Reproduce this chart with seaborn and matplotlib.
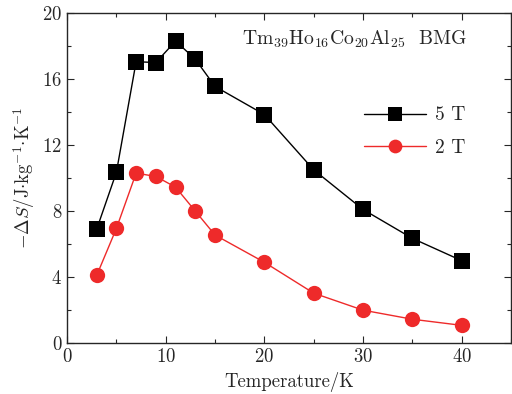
import matplotlib
matplotlib.use("Agg")
import matplotlib.pyplot as plt
import seaborn as sns
import pandas as pd
from matplotlib.ticker import MultipleLocator

sns.set_style("ticks")
plt.rcParams["font.family"] = ["cmr10", "DejaVu Serif"]
plt.rcParams["mathtext.fontset"] = "cm"
plt.rcParams["axes.formatter.use_mathtext"] = True

temperature = [3, 5, 7, 9, 11, 13, 15, 20, 25, 30, 35, 40]
ds_5T = [6.9, 10.35, 17.05, 17.0, 18.3, 17.2, 15.55, 13.85, 10.5, 8.1, 6.35, 5.0]
ds_2T = [4.1, 6.95, 10.3, 10.1, 9.45, 8.0, 6.55, 4.9, 3.03, 2.0, 1.45, 1.08]
series_labels = ["5 T", "2 T"]

df = pd.concat([
    pd.DataFrame({"T": temperature, "dS": ds_5T, "field": series_labels[0]}),
    pd.DataFrame({"T": temperature, "dS": ds_2T, "field": series_labels[1]}),
])

fig = plt.figure(figsize=(5.12, 3.94), dpi=100)
ax = fig.add_axes([0.131, 0.129, 0.867, 0.838])

palette = {"5 T": "black", "2 T": "#ee2a2a"}
sns.lineplot(data=df, x="T", y="dS", hue="field", style="field",
             markers={"5 T": "s", "2 T": "o"}, dashes=False,
             palette=palette, linewidth=1.0, markersize=11,
             markeredgewidth=0, ax=ax)

ax.set_xlim(0, 45)
ax.set_ylim(0, 20)
ax.xaxis.set_major_locator(MultipleLocator(10))
ax.xaxis.set_minor_locator(MultipleLocator(5))
ax.yaxis.set_major_locator(MultipleLocator(4))
ax.yaxis.set_minor_locator(MultipleLocator(2))
ax.tick_params(which="both", direction="in", top=True, right=True, labelsize=13.5)
ax.tick_params(which="major", length=5, width=0.8)
ax.tick_params(which="minor", length=3, width=0.8)
for s in ax.spines.values():
    s.set_linewidth(1.0)

ax.set_xlabel("Temperature/K", fontsize=13.5)
ax.set_ylabel(r"$-\Delta S$/J$\cdot$kg$^{-1}$$\cdot$K$^{-1}$", fontsize=13.5)

ax.text(0.9, 0.921, r"Tm$_{39}$Ho$_{16}$Co$_{20}$Al$_{25}$  BMG",
        transform=ax.transAxes, ha="right", va="center", fontsize=14.2)

leg = ax.legend(loc="upper left", bbox_to_anchor=(0.63, 0.77), frameon=False,
                fontsize=14, handlelength=3.2, labelspacing=0.75, handletextpad=0.45,
                markerscale=0.9)

fig.savefig("out.png", dpi=100)
